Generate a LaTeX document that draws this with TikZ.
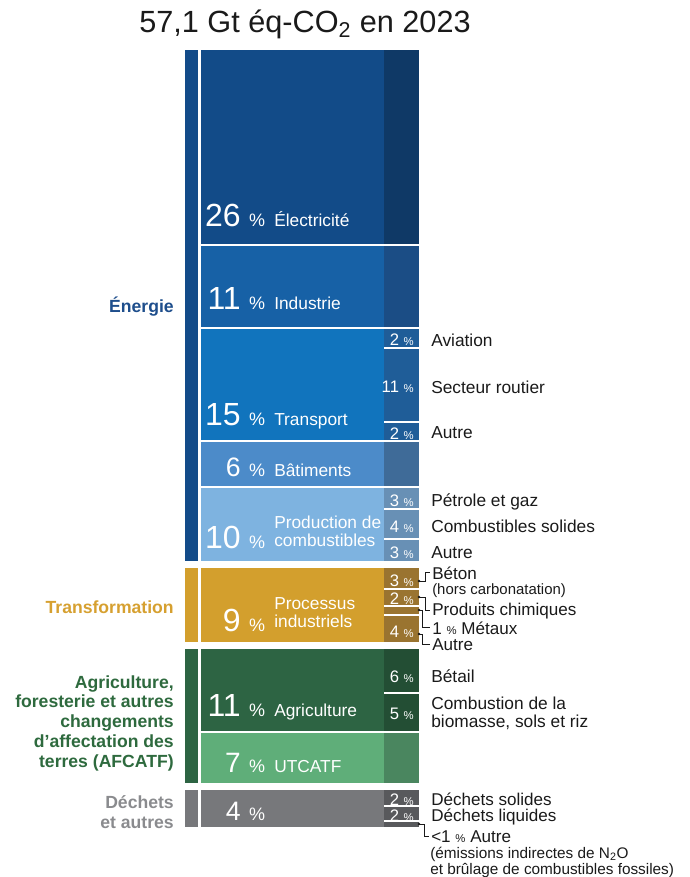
\documentclass[tikz,border=0pt]{standalone}
\usepackage{fontspec}
\setmainfont{Liberation Sans}

\definecolor{cEn}{HTML}{134B89}
\definecolor{cElec}{HTML}{124B88}
\definecolor{cElecR}{HTML}{0F3966}
\definecolor{cIndus}{HTML}{1761A6}
\definecolor{cIndusR}{HTML}{1B4D85}
\definecolor{cTransp}{HTML}{1174BD}
\definecolor{cTranspR}{HTML}{1F5D98}
\definecolor{cBat}{HTML}{4C8BC9}
\definecolor{cBatR}{HTML}{3F6B98}
\definecolor{cProd}{HTML}{7EB3E0}
\definecolor{cProdR}{HTML}{6890B5}
\definecolor{cTransf}{HTML}{D39F2D}
\definecolor{cTransfR}{HTML}{9A7430}
\definecolor{cAgri}{HTML}{2D6443}
\definecolor{cAgriR}{HTML}{234E34}
\definecolor{cUtc}{HTML}{5FAE79}
\definecolor{cUtcR}{HTML}{4A865F}
\definecolor{cDech}{HTML}{77787B}
\definecolor{cDechR}{HTML}{58595C}
\definecolor{lEn}{HTML}{1E4E8C}
\definecolor{lTransf}{HTML}{D6A030}
\definecolor{lAgri}{HTML}{2E6A3E}
\definecolor{lDech}{HTML}{8A8B8E}
\definecolor{txt}{HTML}{1A1A1A}

\newcommand{\smallpct}{{\fontsize{8.5}{9}\selectfont\%}}

\begin{document}
\begin{tikzpicture}[
	x=0.75pt, y=-0.75pt,
	bignum/.style={anchor=base east, inner sep=0pt, text=white, font=\fontsize{24}{24}\selectfont},
	pctsign/.style={anchor=base, inner sep=0pt, text=white, font=\fontsize{13.5}{14}\selectfont},
	sector/.style={anchor=base west, inner sep=0pt, text=white, font=\fontsize{13}{14}\selectfont},
	sectortwo/.style={anchor=west, inner sep=0pt, text=white, align=left, font=\fontsize{13}{13.8}\selectfont},
	subpct/.style={anchor=base east, inner sep=0pt, text=white, font=\fontsize{12.5}{13}\selectfont},
	sublabel/.style={anchor=base west, inner sep=0pt, text=txt, font=\fontsize{13}{13}\selectfont},
	smalllabel/.style={anchor=base west, inner sep=0pt, text=txt, font=\fontsize{12.8}{12.8}\selectfont},
	catlabel/.style={inner sep=0pt, align=right, font=\bfseries\fontsize{13.2}{14.8}\selectfont},
	sepline/.style={white, line width=1.3pt},
	ArrowT/.style={txt, line width=0.6pt},% elbow connectors
	tipdot/.style={txt},
]
	\useasboundingbox (0,0) rectangle (689,877);

	% title
	\node [anchor=base, inner sep=0pt, text=txt, font=\fontsize{23}{24}\selectfont] (title) at (305,33) {57,1 Gt éq-CO\textsubscript{2} en 2023};

	% category bars
	\fill [cEn] (185,50) rectangle (198,561);
	\fill [cTransf] (185,568) rectangle (198,642);
	\fill [cAgri] (185,649) rectangle (198,783);
	\fill [cDech] (185,790) rectangle (198,827);

	% blocks
	\fill [cElec] (201,50) rectangle (384,244);
	\fill [cElecR] (384,50) rectangle (419,244);
	\fill [cIndus] (201,246) rectangle (384,327);
	\fill [cIndusR] (384,246) rectangle (419,327);
	\fill [cTransp] (201,329) rectangle (384,440);
	\fill [cTranspR] (384,329) rectangle (419,440);
	\fill [cBat] (201,442) rectangle (384,486);
	\fill [cBatR] (384,442) rectangle (419,486);
	\fill [cProd] (201,488) rectangle (384,561);
	\fill [cProdR] (384,488) rectangle (419,561);
	\fill [cTransf] (201,568) rectangle (384,642);
	\fill [cTransfR] (384,568) rectangle (419,642);
	\fill [cAgri] (201,649) rectangle (384,731);
	\fill [cAgriR] (384,649) rectangle (419,731);
	\fill [cUtc] (201,733) rectangle (384,783);
	\fill [cUtcR] (384,733) rectangle (419,783);
	\fill [cDech] (201,790) rectangle (384,827);
	\fill [cDechR] (384,790) rectangle (419,827);

	% sub-block separators
	\draw [sepline] (384,348) -- (419,348);
	\draw [sepline] (384,422) -- (419,422);
	\draw [sepline] (384,509) -- (419,509);
	\draw [sepline] (384,539) -- (419,539);
	\draw [sepline] (384,589) -- (419,589);
	\draw [sepline] (384,606) -- (419,606);
	\draw [sepline] (384,615) -- (419,615);
	\draw [sepline] (384,693) -- (419,693);
	\draw [sepline] (384,806) -- (419,806);
	\draw [sepline] (384,821) -- (419,821);

	% category labels
	\node [catlabel, anchor=base east, text=lEn] (energie) at (174,312) {Énergie};
	\node [catlabel, anchor=base east, text=lTransf] (transfo) at (174,613) {Transformation};
	\node [catlabel, anchor=east, text=lAgri] (afcatf) at (174,723) {Agriculture,\\foresterie et autres\\changements\\d’affectation des\\terres (AFCATF)};
	\node [catlabel, anchor=east, text=lDech] (dechets) at (174,812) {Déchets\\et autres};

	% block labels
	\node [bignum] (nElec) at (241,226.5) {26};
	\node [pctsign] (pElec) at (257,226.5) {\%};
	\node [sector] (elec) at (274,226.5) {Électricité};

	\node [bignum] (nIndus) at (241,309) {11};
	\node [pctsign] (pIndus) at (257,309) {\%};
	\node [sector] (indus) at (274,309) {Industrie};

	\node [bignum] (nTransp) at (241,425) {15};
	\node [pctsign] (pTransp) at (257,425) {\%};
	\node [sector] (transp) at (274,425) {Transport};

	\node [bignum, font=\fontsize{20}{20}\selectfont] (nBat) at (241,476) {6};
	\node [pctsign] (pBat) at (257,476) {\%};
	\node [sector] (bat) at (274,476) {Bâtiments};

	\node [bignum] (nProd) at (241,548) {10};
	\node [pctsign] (pProd) at (257,548) {\%};
	\node [sectortwo] (prod) at (274,531) {Production de\\combustibles};

	\node [bignum] (nTransf) at (241,631) {9};
	\node [pctsign] (pTransf) at (257,631) {\%};
	\node [sectortwo] (transf) at (274,612.5) {Processus\\industriels};

	\node [bignum] (nAgri) at (241,716) {11};
	\node [pctsign] (pAgri) at (257,716) {\%};
	\node [sector] (agri) at (274,716) {Agriculture};

	\node [bignum, font=\fontsize{21}{21}\selectfont] (nUtc) at (241,772) {7};
	\node [pctsign] (pUtc) at (257,772) {\%};
	\node [sector] (utc) at (274,772) {UTCATF};

	\node [bignum, font=\fontsize{20}{20}\selectfont] (nDech) at (241,820) {4};
	\node [pctsign] (pDech) at (257,820) {\%};

	% sub-block shares
	\node [subpct] (sAvia) at (414,345.5) {2 \smallpct};
	\node [subpct] (sRout) at (414,392) {11 \smallpct};
	\node [subpct] (sTAut) at (414,439) {2 \smallpct};
	\node [subpct] (sPetr) at (414,506) {3 \smallpct};
	\node [subpct] (sComb) at (414,532) {4 \smallpct};
	\node [subpct] (sPAut) at (414,558) {3 \smallpct};
	\node [subpct] (sBeto) at (414,586) {3 \smallpct};
	\node [subpct] (sChim) at (414,604) {2 \smallpct};
	\node [subpct] (sIAut) at (414,637) {4 \smallpct};
	\node [subpct] (sBeta) at (414,682) {6 \smallpct};
	\node [subpct] (sBiom) at (414,719) {5 \smallpct};
	\node [subpct] (sSoli) at (414,805) {2 \smallpct};
	\node [subpct] (sLiqu) at (414,821) {2 \smallpct};

	% sub-block names
	\node [sublabel] (avia) at (431,346) {Aviation};
	\node [sublabel] (rout) at (431,393) {Secteur routier};
	\node [sublabel] (tAut) at (431,438) {Autre};
	\node [sublabel] (petr) at (431,506) {Pétrole et gaz};
	\node [sublabel] (comb) at (431,532) {Combustibles solides};
	\node [sublabel] (pAut) at (431,558) {Autre};
	\node [smalllabel] (beton) at (432,579) {Béton};
	\node [smalllabel, font=\fontsize{11.2}{12}\selectfont] (carbo) at (432,594) {(hors carbonatation)};
	\node [smalllabel] (chim) at (432,615) {Produits chimiques};
	\node [smalllabel] (meta) at (432,634) {1 \smallpct{} Métaux};
	\node [smalllabel] (iAut) at (432,650) {Autre};
	\node [sublabel] (beta) at (431,682) {Bétail};
	\node [sublabel, anchor=west, align=left, font=\fontsize{13}{13.1}\selectfont] (biom) at (431,713.5) {Combustion de la\\biomasse, sols et riz};
	\node [smalllabel] (soli) at (431,805) {Déchets solides};
	\node [smalllabel] (liqu) at (431,821) {Déchets liquides};
	\node [smalllabel] (dAut) at (431,842) {<1 \smallpct{} Autre};
	\node [smalllabel, anchor=west, align=left, font=\fontsize{11.5}{12}\selectfont] (emis) at (430,862) {(émissions indirectes de N\textsubscript{2}O\\et brûlage de combustibles fossiles)};

	% elbow connectors
	\coordinate (cBeto) at (419,581);
	\coordinate (cChim) at (419,597);
	\coordinate (cMeta) at (419,610);
	\coordinate (cIAut) at (419,634);
	\coordinate (cDAut) at (419,824);
	\fill [tipdot] (cBeto) circle (1.1pt);
	\fill [tipdot] (cChim) circle (1.1pt);
	\fill [tipdot] (cMeta) circle (1.1pt);
	\fill [tipdot] (cIAut) circle (1.1pt);
	\fill [tipdot] (cDAut) circle (1.1pt);
	\draw [ArrowT] (cBeto) -- ++(6,0) |- ([xshift=-1.5pt]beton.west);
	\draw [ArrowT] (cChim) -- ++(6,0) |- ([xshift=-1.5pt]chim.west);
	\draw [ArrowT] (cMeta) -- ++(3.5,0) |- ([xshift=-1.5pt]meta.west);
	\draw [ArrowT] (cIAut) -- ++(3.5,0) |- ([xshift=-1.5pt]iAut.west);
	\draw [ArrowT] (cDAut) -- ++(5,0) |- ([xshift=-1.5pt]dAut.west);
\end{tikzpicture}
\end{document}
